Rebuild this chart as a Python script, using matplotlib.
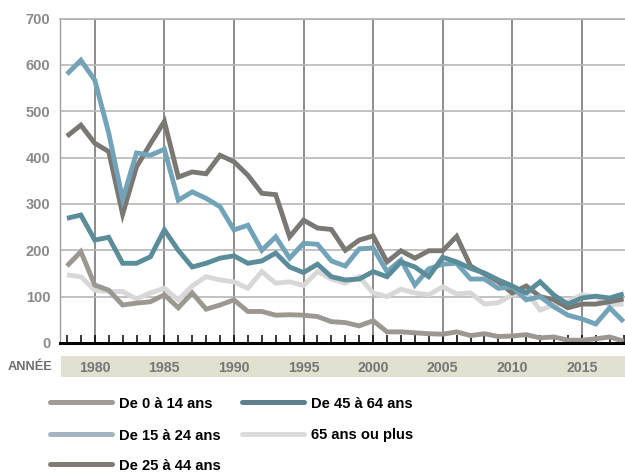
import matplotlib
matplotlib.use("Agg")
import matplotlib.pyplot as plt
from matplotlib.lines import Line2D
from matplotlib.patches import Rectangle

years = list(range(1978, 2019))

age_0_14 = [166, 197, 125, 114, 82, 86, 89, 104, 76, 108, 73, 82, 93, 68, 68, 60, 61, 60,
            57, 46, 44, 37, 48, 24, 24, 22, 20, 19, 24, 16, 20, 14, 15, 18, 11, 13, 6, 6, 9, 13, 4]
age_15_24 = [580, 610, 567, 453, 310, 410, 405, 418, 308, 326, 312, 294, 244, 254, 200, 229, 183, 215,
             213, 177, 166, 203, 205, 154, 179, 125, 160, 170, 172, 138, 138, 118, 121, 93, 100, 78, 60, 52, 41, 76, 46]
age_25_44 = [446, 470, 431, 413, 278, 380, 430, 478, 358, 369, 365, 405, 391, 362, 323, 320, 229, 265,
             248, 245, 200, 222, 231, 175, 199, 183, 199, 199, 230, 166, 149, 132, 108, 123, 100, 93, 76, 84, 84, 89, 95]
age_45_64 = [269, 276, 222, 228, 172, 172, 186, 244, 200, 164, 172, 183, 188, 172, 177, 194, 164, 152,
             170, 143, 136, 138, 154, 143, 175, 164, 143, 185, 175, 161, 151, 136, 123, 108, 132, 103, 84, 97, 101, 97, 106]
age_65_plus = [147, 143, 114, 111, 111, 95, 108, 118, 93, 123, 143, 136, 132, 118, 154, 129, 132, 124,
               154, 138, 129, 143, 108, 100, 116, 108, 104, 121, 106, 108, 84, 87, 104, 111, 71, 82, 89, 104, 99, 82, 84]

labels = ["De 0 à 14 ans", "De 15 à 24 ans", "De 25 à 44 ans", "De 45 à 64 ans", "65 ans ou plus"]
line_colors = ["#9c9891", "#72a3b8", "#7b7873", "#5a8c9a", "#d8d8d8"]
legend_colors = ["#a09c94", "#a4b4c2", "#7f7b76", "#5e7f8e", "#dcdcdc"]
series = [age_0_14, age_15_24, age_25_44, age_45_64, age_65_plus]
draw_order = [4, 0, 2, 1, 3]

yticks = list(range(0, 701, 100))
xlabel_years = [1980, 1985, 1990, 1995, 2000, 2005, 2010, 2015]

plt.rcParams["font.family"] = ["Liberation Sans", "DejaVu Sans"]

W, H = 625, 472
fig = plt.figure(figsize=(W / 100, H / 100), dpi=100)
ax = fig.add_axes([60 / W, (H - 343) / H, (W - 60) / W, (343 - 18.5) / H])

for i in draw_order:
    ax.plot(years, series[i], color=line_colors[i], lw=3.5,
            solid_joinstyle="miter", solid_capstyle="butt", zorder=3)

ax.set_xlim(1977.5, 2018.1)
ax.set_ylim(0, 700)
ax.set_yticks(yticks)
ax.set_xticks(xlabel_years)
ax.set_xticks(years, minor=True)
ax.set_xticklabels([str(y) for y in xlabel_years])

ax.grid(axis="y", color="#b8b8b8", lw=1.2, zorder=1)
ax.grid(axis="x", which="major", color="#6e6e6e", lw=1.1, zorder=1)

ax.tick_params(axis="y", length=0, pad=7, labelsize=10.5, labelcolor="#8a8a8a")
for t in ax.get_yticklabels():
    t.set_fontweight("bold")
ax.tick_params(axis="x", which="both", direction="in", length=6, width=1.1, color="black")
ax.tick_params(axis="x", which="major", pad=13, labelsize=10.2, labelcolor="#777777")
for t in ax.get_xticklabels():
    t.set_fontweight("bold")

ax.spines["right"].set_visible(False)
ax.spines["top"].set_color("#b0b0b0")
ax.spines["top"].set_linewidth(1.2)
ax.spines["left"].set_color("#a0a0a0")
ax.spines["left"].set_linewidth(1.0)
ax.spines["bottom"].set_color("black")
ax.spines["bottom"].set_linewidth(2.2)
ax.spines["bottom"].set_zorder(4)

# beige band behind the year labels
band = Rectangle((61 / W, (H - 377) / H), (W - 61) / W, 21 / H,
                 transform=fig.transFigure, facecolor="#e2e0d0", edgecolor="none", zorder=-5)
fig.patches.append(band)
ax.set_zorder(1)
ax.patch.set_alpha(0)
fig.text(52 / W, (H - 367) / H, "ANNÉE", ha="right", va="center",
         fontsize=9.2, fontweight="bold", color="#6e6e6e")

# legend (two columns)
rows_y = [402, 434, 464]
positions = [(50, rows_y[0]), (50, rows_y[1]), (50, rows_y[2]), (242, rows_y[0]), (242, rows_y[1])]
for i, (x0, yy) in enumerate(positions):
    fig.add_artist(Line2D([x0 / W, (x0 + 62) / W], [(H - yy) / H, (H - yy) / H],
                          transform=fig.transFigure, color=legend_colors[i], lw=3.6,
                          solid_capstyle="round"))
    fig.text((x0 + 69) / W, (H - yy) / H, labels[i], ha="left", va="center_baseline",
             fontsize=10.6, fontweight="bold", color="black")

fig.savefig("out.png", dpi=100)
